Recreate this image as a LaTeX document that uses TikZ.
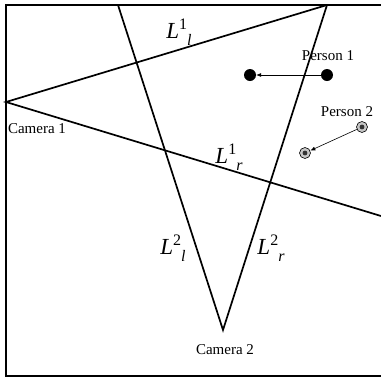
\documentclass[tikz,border=0pt]{standalone}
\usepackage{fontspec}
\setmainfont{Liberation Serif}
\usetikzlibrary{arrows.meta}
\newcommand{\Lab}[2]{\textit{L}\raisebox{0.42em}{\fontsize{16}{16}\selectfont #1}\raisebox{-0.3em}{\fontsize{16}{16}\selectfont\textit{#2}}}
\tikzset{
  fov/.style={line width=1.7pt},
  frameline/.style={line width=1.7pt},
  lab/.style={font=\fontsize{23}{25}\selectfont, inner sep=0pt},
  txt/.style={font=\fontsize{15}{17}\selectfont, inner sep=0pt},
  pdot/.style={circle, fill=black, minimum size=12pt, inner sep=0pt},
  gdot/.style={circle, draw=black, line width=0.6pt, fill=gray!45, minimum size=11pt, inner sep=0pt},
  move/.style={line width=0.6pt, -{Latex[length=5pt,width=4pt]}}
}
\begin{document}
\begin{tikzpicture}[x=1pt,y=-1pt]
\useasboundingbox (0,0) rectangle (381,381);
% frame
\coordinate (ftr) at (383,5);
\coordinate (ftl) at (6,5);
\coordinate (fbl) at (6,376);
\coordinate (fbr) at (383,376);
\draw[frameline] (ftr) -- (ftl) -- (fbl) -- (fbr);
% cameras and field-of-view lines
\coordinate (cam1) at (6,102);
\coordinate (cam2) at (223,330);
\coordinate (tr) at (327,5);
\coordinate (tl) at (118,5);
\coordinate (re) at (381,216);
\draw[fov] (tr) -- (cam1) -- (re);
\draw[fov] (tl) -- (cam2) -- (tr);
% labels
\node[txt] (c1) at (37,129) {Camera 1};
\node[txt] (c2) at (225,350) {Camera 2};
\node[lab] (l1l) at (179,32) {\Lab{1}{l}};
\node[lab] (l1r) at (229,157) {\Lab{1}{r}};
\node[lab] (l2l) at (173,248) {\Lab{2}{l}};
\node[lab] (l2r) at (271,248) {\Lab{2}{r}};
% persons
\node[txt] (p1) at (328,56) {Person 1};
\node[pdot] (p1a) at (327,75) {};
\node[pdot] (p1b) at (250,75) {};
\draw[move] (p1a) -- (p1b);
\node[txt] (p2) at (347,112) {Person 2};
\node[gdot] (p2a) at (362,127) {};
\node[gdot] (p2b) at (305,153) {};
\fill[black!80] (p2a.center) circle (2.4pt);
\fill[black!80] (p2b.center) circle (2.4pt);
\draw[move] (p2a) -- (p2b);
\end{tikzpicture}
\end{document}
